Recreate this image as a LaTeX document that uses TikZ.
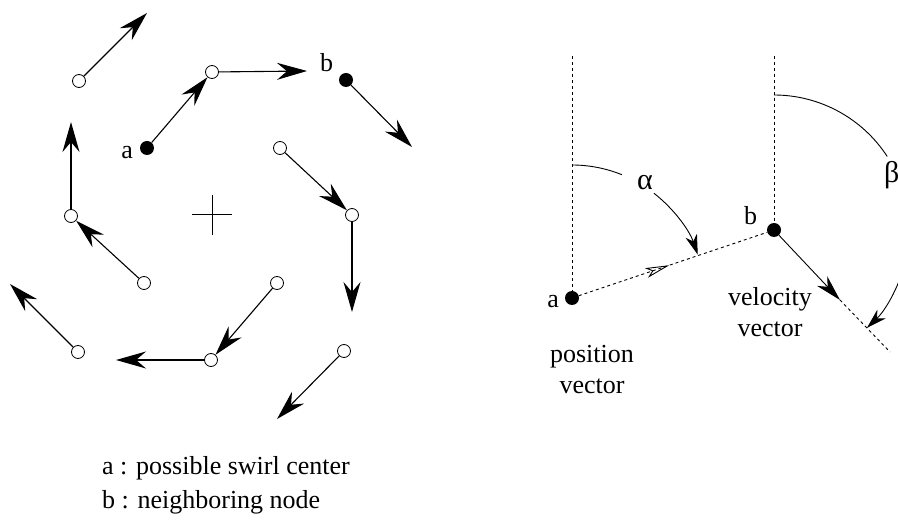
\documentclass[tikz,border=0pt]{standalone}
\usepackage{fontspec}
\setmainfont{Liberation Serif}
\usetikzlibrary{arrows.meta,decorations.markings}
\tikzset{
  swvec/.style={line width=1.1pt,arrows={-Stealth[length=30pt,width=17pt,inset=10pt]}},
  ocirc/.style={circle,draw,line width=0.8pt,minimum size=13pt,inner sep=0pt},
  fdot/.style={circle,fill,minimum size=14pt,inner sep=0pt},
  lbl/.style={font=\fontsize{26}{31}\selectfont,inner sep=0pt},
  glbl/.style={font=\fontsize{30}{34}\selectfont,inner sep=0pt},
  dots/.style={line width=0.9pt,dash pattern=on 3pt off 3pt},
  arcarrow/.style={line width=0.9pt,arrows={-Stealth[length=20pt,width=12pt,inset=6pt]}},
  arcline/.style={line width=0.9pt},
  velarrow/.style={line width=0.9pt,arrows={-Stealth[length=26pt,width=14pt,inset=8pt]}}
}
\begin{document}
\begin{tikzpicture}[x=1pt,y=-1pt]
\useasboundingbox (0,0) rectangle (898,521);

% ---------- left diagram ----------
\node[ocirc] (c1) at (79,81) {};
\node[ocirc] (c2) at (212,72) {};
\node[fdot]  (b)  at (346,80) {};
\node[fdot]  (a)  at (147,148) {};
\node[ocirc] (c3) at (280,148) {};
\node[ocirc] (c4) at (352,215) {};
\node[ocirc] (c5) at (344,351) {};
\node[ocirc] (c6) at (277,283) {};
\node[ocirc] (c7) at (211,360) {};
\node[ocirc] (c8) at (78,352) {};
\node[ocirc] (c9) at (144,283) {};
\node[ocirc] (c10) at (71,216) {};

\coordinate (t1) at (147,13);
\coordinate (t2) at (307,71);
\coordinate (tb) at (412,147);
\coordinate (t4) at (352,312);
\coordinate (t5) at (277,419);
\coordinate (t7) at (116,360);
\coordinate (t8) at (10,284);
\coordinate (t10) at (71,122);

\draw[swvec] (c1) -- (t1);
\draw[swvec] (c2) -- (t2);
\draw[swvec] (b) -- (tb);
\draw[swvec] (a) -- (c2);
\draw[swvec] (c3) -- (c4);
\draw[swvec] (c4) -- (t4);
\draw[swvec] (c5) -- (t5);
\draw[swvec] (c6) -- (c7);
\draw[swvec] (c7) -- (t7);
\draw[swvec] (c8) -- (t8);
\draw[swvec] (c9) -- (c10);
\draw[swvec] (c10) -- (t10);

\node[lbl,anchor=base east] (la) at (133,159) {a};
\node[lbl,anchor=base west] (lb) at (320,72) {b};

% center cross
\coordinate (ctr) at (212,215);
\draw[line width=1pt] (192,215) -- (232,215) (212,195) -- (212,235);

% legend
\node[lbl,anchor=base west] (leg1) at (102,475) {a : possible swirl center};
\node[lbl,anchor=base west] (leg2) at (102,508) {b : neighboring node};

% ---------- right diagram ----------
\node[fdot] (A) at (572,298) {};
\node[fdot] (B) at (774,230) {};
\coordinate (topA) at (572,56);
\coordinate (topB) at (774,56);
\coordinate (V) at (840,300);
\coordinate (Vend) at (890,352);

\draw[dots] (topA) -- (A);
\draw[dots] (topB) -- (B);
\draw[dots,postaction={decorate},decoration={markings,
  mark=at position 0.48 with {\arrow[solid,line width=0.9pt]{Stealth[open,length=24pt,width=10pt,inset=6pt]}}}] (A) -- (B);
\draw[velarrow] (B) -- (V);
\draw[dots] (V) -- (Vend);

% alpha arc
\draw[arcline] (A) ++(-90:133) arc[start angle=-90,end angle=-68,radius=133];
\draw[arcarrow] (A) ++(-52:133) arc[start angle=-52,end angle=-19,radius=133];
% beta arc
\draw[arcline] (B) ++(-90:135) arc[start angle=-90,end angle=-33,radius=135];
\draw[arcarrow] (B) ++(15:135) arc[start angle=15,end angle=46.5,radius=135];

\node[glbl,anchor=base west] (alpha) at (637,190) {α};
\node[glbl,anchor=base west] (beta) at (884,183) {β};
\node[lbl,anchor=base east] (rA) at (559,308) {a};
\node[lbl,anchor=base west] (rB) at (744,225) {b};

\node[lbl,align=center,anchor=north] (pos) at (592,345) {position\\vector};
\node[lbl,align=center,anchor=north] (vel) at (770,287) {velocity\\vector};
\end{tikzpicture}
\end{document}
